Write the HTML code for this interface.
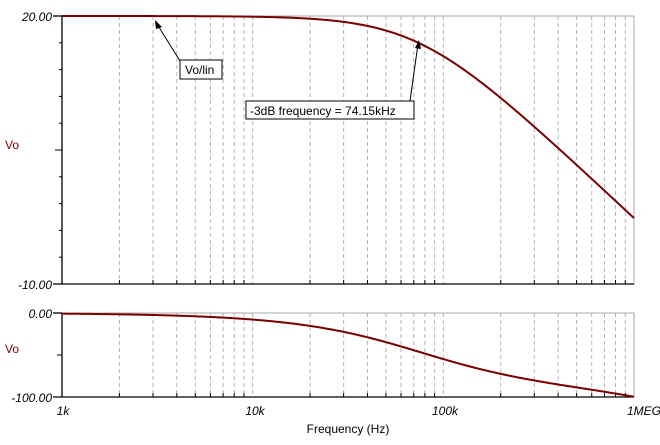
<!DOCTYPE html>
<html><head><meta charset="utf-8"><style>
html,body{margin:0;padding:0;background:#fff;}
svg{display:block;font-family:"Liberation Sans",sans-serif;}
</style></head><body>
<svg id="s" width="660" height="445" xmlns="http://www.w3.org/2000/svg">
<rect width="660" height="445" fill="#fff"/>
<g id="grid" stroke="#b4b4b4" stroke-dasharray="4,3" stroke-width="1"></g>
<rect x="62" y="16" width="572" height="268" fill="none" stroke="#a8a8a8"/>
<rect x="62" y="313" width="572" height="84" fill="none" stroke="#a8a8a8"/>
<g stroke="#000" stroke-width="1.3">
<line x1="62" y1="16" x2="62" y2="284"/><line x1="53" y1="284" x2="634" y2="284"/>
<line x1="62" y1="313" x2="62" y2="397"/><line x1="53" y1="397" x2="634" y2="397"/>
<line x1="53" y1="16" x2="62" y2="16"/><line x1="53" y1="313" x2="62" y2="313"/>
</g>
<g id="ticks" stroke="#000" stroke-width="1"></g>
<path id="p1" fill="none" stroke="#7a0000" stroke-width="2"/>
<path id="p2" fill="none" stroke="#7a0000" stroke-width="2"/>
<g font-style="italic" font-size="12" fill="#000" text-anchor="end">
<text x="52" y="21">20.00</text><text x="52" y="289">-10.00</text>
<text x="52" y="318">0.00</text><text x="52" y="402">-100.00</text>
</g>
<g font-style="italic" font-size="12" fill="#000" text-anchor="middle">
<text x="63" y="415">1k</text><text x="255" y="415">10k</text><text x="445" y="415">100k</text><text x="644" y="415">1MEG</text>
</g>
<text x="348" y="433" font-size="12" text-anchor="middle">Frequency (Hz)</text>
<text x="5" y="149" font-size="12" fill="#800000">Vo</text>
<text x="5" y="353" font-size="12" fill="#800000">Vo</text>
<line x1="180" y1="61" x2="157" y2="24" stroke="#000"/>
<polygon points="155,20 162,27 156,29" fill="#000"/>
<rect x="180" y="60" width="42" height="19" fill="#fff" stroke="#000"/>
<text x="185" y="74" font-size="12">Vo/lin</text>
<line x1="410" y1="101" x2="418" y2="44" stroke="#000"/>
<polygon points="419,40 421,49 415,48" fill="#000"/>
<rect x="246" y="101" width="168" height="18" fill="#fff" stroke="#000"/>
<text x="250" y="115" font-size="12">-3dB frequency = 74.15kHz</text>
</svg>
<script>
var X0=62,W=572,D=W/3;
function fx(f){return X0+Math.log10(f/1000)*D;}
var g=document.getElementById('grid'),t=document.getElementById('ticks'),ns='http://www.w3.org/2000/svg';
function ln(p,a,b,c,d){var l=document.createElementNS(ns,'line');l.setAttribute('x1',a);l.setAttribute('y1',b);l.setAttribute('x2',c);l.setAttribute('y2',d);p.appendChild(l);}
for(var dec=0;dec<3;dec++){for(var m=2;m<=9;m++){var x=fx(1000*Math.pow(10,dec)*m);ln(g,x,16,x,284);ln(g,x,313,x,397);ln(t,x,280,x,284);ln(t,x,393,x,397);}
var xm=fx(1000*Math.pow(10,dec));ln(g,xm,16,xm,284);ln(g,xm,313,xm,397);}
for(var i=1;i<10;i++){var y=16+i*26.8;ln(t,i==5?55:59,y,62,y);}
ln(t,57,355,62,355);
var s1='',s2='',fc=74150;
for(var i=0;i<=400;i++){var f=1000*Math.pow(10,3*i/400);var r=f/fc;
var db=20-10*Math.log10(1+r*r);var y1=16+(20-db)*268/30;
var ph=-Math.atan(r)*180/Math.PI-14*f/1e6;var y2=313-ph*0.84;
var x=fx(f).toFixed(2);s1+=(i?'L':'M')+x+','+y1.toFixed(2);s2+=(i?'L':'M')+x+','+Math.min(y2,397).toFixed(2);}
document.getElementById('p1').setAttribute('d',s1);document.getElementById('p2').setAttribute('d',s2);
</script>
</body></html>
